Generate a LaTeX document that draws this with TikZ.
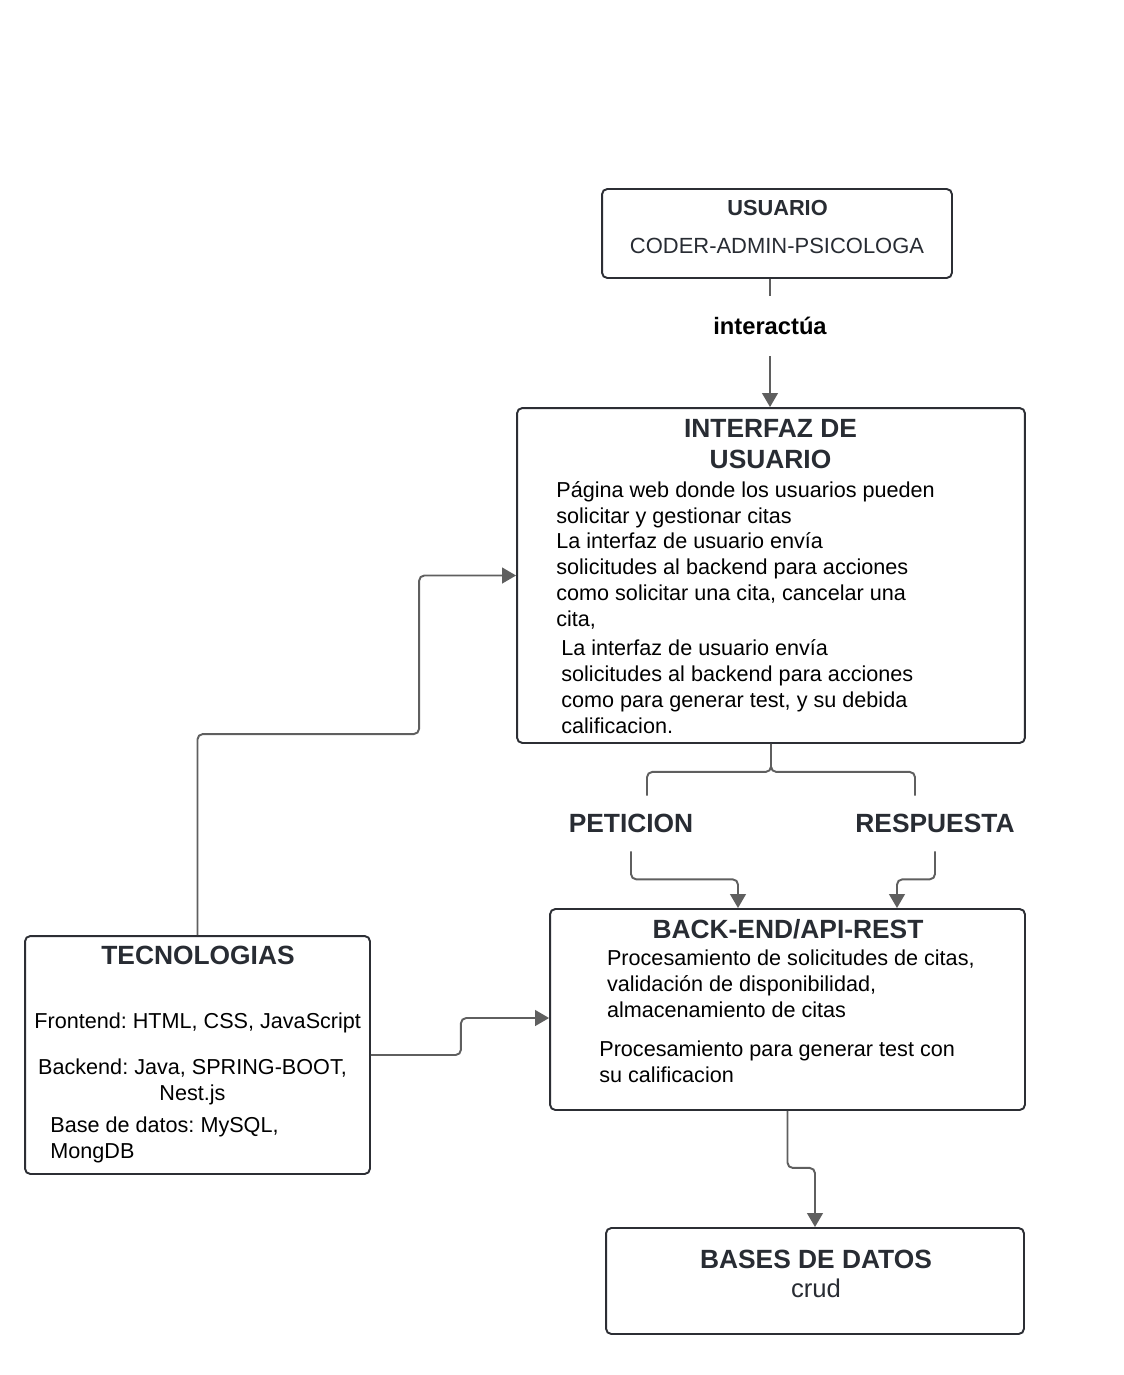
\documentclass[tikz,border=0pt]{standalone}
\usepackage{fontspec}
\setmainfont{Liberation Sans}
\usepackage{xcolor}
\usepackage{tikz}
\usetikzlibrary{
  arrows.meta,
  positioning,
  calc
}
\frenchspacing
\definecolor{BoxLine}{RGB}{44,46,52}
\definecolor{TitleInk}{RGB}{40,44,51}
\definecolor{WireGray}{RGB}{95,95,95}
\tikzset{
  %%── boxes ─────────────────────────────────────────────
  box/.style = {
    rectangle, rounded corners = 3pt,
    draw = BoxLine, line width = 1.1pt, fill = white
  },
  %%── texts (multi-line texts sit on the base of their last line) ──
  ttl/.style = {
    inner sep = 0pt, anchor = base, align = center, text = TitleInk,
    font = \fontsize{15}{17.6}\selectfont\bfseries
  },
  body/.style = {
    inner sep = 0pt, anchor = base west, align = left, text = black,
    font = \fontsize{12.3}{14.75}\selectfont
  },
  flow/.style = {
    inner sep = 0pt, minimum height = 1.1cm, text = TitleInk,
    font = \fontsize{15}{17.6}\selectfont\bfseries
  },
  %%── connectors ────────────────────────────────────────
  wire/.style = {line width = 1.1pt, color = WireGray, rounded corners = 3pt},
  arr/.style  = {wire, -{Triangle[length=8pt, width=9pt]}},
}

\begin{document}
\begin{tikzpicture}[x=0.02cm, y=-0.02cm]
  \useasboundingbox (0,0) rectangle (1123,1375);

  %%── boxes ──
  \node[box, minimum width=7cm,    minimum height=1.78cm] (usr) at (777,233.5) {};
  \node[box, minimum width=10.16cm, minimum height=6.7cm] (ui)  at (771,575.5) {};
  \node[box, minimum width=9.5cm,  minimum height=4.02cm] (bk)  at (787.5,1009.5) {};
  \node[box, minimum width=6.9cm,  minimum height=4.76cm] (tec) at (197.5,1055) {};
  \node[box, minimum width=8.36cm, minimum height=2.12cm] (db)  at (815,1281) {};

  %%── usuario ──
  \node[ttl, font=\fontsize{12.4}{15}\selectfont\bfseries] (usrT) at (777.5,215) {USUARIO};
  \node[ttl, font=\fontsize{12.5}{15}\selectfont\mdseries] (usrR) at (777,254) {CODER-ADMIN-PSICOLOGA};

  %%── interfaz ──
  \node[ttl] (uiT) at (770.5,468.3) {INTERFAZ DE\\USUARIO};
  \node[body] (uiA) at (556,626.7)
    {Página web donde los usuarios pueden\\solicitar y gestionar citas\\La interfaz de usuario envía\\solicitudes al backend para acciones\\como solicitar una cita, cancelar una\\cita,};
  \node[body] (uiB) at (561,733)
    {La interfaz de usuario envía\\solicitudes al backend para acciones\\como para generar test, y su debida\\calificacion.};

  %%── back-end ──
  \node[ttl] (bkT) at (788,938) {BACK-END/API-REST};
  \node[body] (bkA) at (606.7,1017.3)
    {Procesamiento de solicitudes de citas,\\validación de disponibilidad,\\almacenamiento de citas};
  \node[body] (bkB) at (599,1082.3)
    {Procesamiento para generar test con\\su calificacion};

  %%── tecnologias ──
  \node[ttl] (tecT) at (198,964) {TECNOLOGIAS};
  \node[body] (tecF) at (34,1028) {Frontend: HTML, CSS, JavaScript};
  \node[body, anchor=base, align=center] (tecB) at (192.5,1100) {Backend: Java, SPRING-BOOT,\\Nest.js};
  \node[body] (tecD) at (50,1158) {Base de datos: MySQL,\\MongDB};

  %%── bases de datos ──
  \node[ttl] (dbT) at (816,1268) {BASES DE DATOS};
  \node[ttl, font=\fontsize{14.6}{17}\selectfont\mdseries] (dbR) at (816,1297) {crud};

  %%── labels on the wires ──
  \node[inner sep=0pt, minimum height=1.2cm, font=\fontsize{13.5}{16}\selectfont\bfseries]
    (inter) at (770,326) {interactúa};
  \node[flow] (pet)  at (631,823.5) {PETICION};
  \node[flow] (resp) at (935,823.5) {RESPUESTA};

  %%── connectors ──
  \draw[wire] (usr.south -| inter.north) -- (inter.north);
  \draw[arr]  (inter.south) -- (ui.north -| inter.south);
  \draw[wire] (ui.south) -- ++(0,28) -| ($(pet.north)+(16,0)$);
  \draw[wire] (ui.south) -- ++(0,28) -| ($(resp.north)+(-20,0)$);
  \draw[arr]  (pet.south) -- ++(0,28) -| ($(bk.north)+(-49.5,0)$);
  \draw[arr]  (resp.south) -- ++(0,28) -| ($(bk.north)+(109.5,0)$);
  \draw[arr]  (tec.north) -- ++(0,-201) -| ($(ui.west)+(-97,0)$) -- (ui.west);
  \draw[arr]  (tec.east) -- ++(90,0) |- ($(bk.west)+(0,8.5)$);
  \draw[arr]  (bk.south) -- ++(0,57) -| (db.north);
\end{tikzpicture}
\end{document}
